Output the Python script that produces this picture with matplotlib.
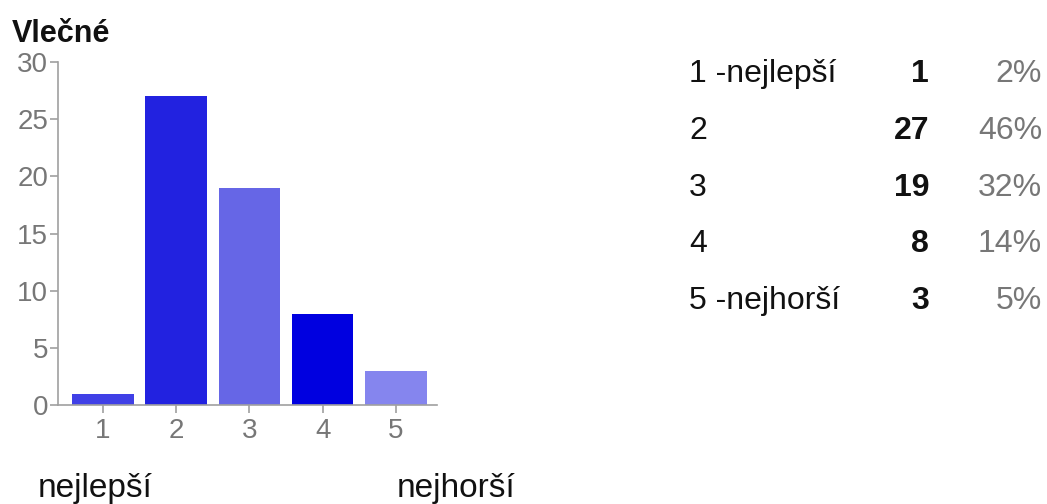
import matplotlib
matplotlib.use("Agg")
import matplotlib.pyplot as plt

categories = ["1", "2", "3", "4", "5"]
counts = [1, 27, 19, 8, 3]
row_labels = ["1 -nejlepší", "2", "3", "4", "5 -nejhorší"]
percents = ["2%", "46%", "32%", "14%", "5%"]
bar_colors = ["#4040e6", "#2222e0", "#6666e6", "#0000e0", "#8585ee"]
yticks = [0, 5, 10, 15, 20, 25, 30]
title = "Vlečné"
low_label = "nejlepší"
high_label = "nejhorší"

plt.rcParams['font.family'] = ['Liberation Sans', 'DejaVu Sans']

W, H = 1047, 504
fig = plt.figure(figsize=(W / 100, H / 100), dpi=100)

def fx(px):
    return px / W

def fy(py):
    return 1 - py / H

ax = fig.add_axes([fx(58), fy(405), fx(437) - fx(58), fy(62) - fy(405)])
xs = list(range(1, len(categories) + 1))
ax.bar(xs, counts, width=0.84, color=bar_colors, edgecolor='none')
ax.set_xlim(0.39, 5.56)
ax.set_ylim(0, 30)
ax.set_xticks(xs)
ax.set_xticklabels(categories)
ax.set_yticks(yticks)
ax.set_yticklabels([str(v) for v in yticks])
for s in ['top', 'right']:
    ax.spines[s].set_visible(False)
for s in ['left', 'bottom']:
    ax.spines[s].set_color('#a0a0a0')
    ax.spines[s].set_linewidth(1.2)
ax.tick_params(axis='both', colors='#a0a0a0', labelcolor='#777777',
               labelsize=20, length=6, width=1.2)
ax.tick_params(axis='y', pad=1)
ax.tick_params(axis='x', pad=3)

fig.text(fx(12), fy(42), title, fontsize=22, fontweight='bold',
         color='#111111', ha='left', va='baseline')
fig.text(fx(38), fy(497), low_label, fontsize=24, color='#111111',
         ha='left', va='baseline')
fig.text(fx(397), fy(497), high_label, fontsize=24, color='#111111',
         ha='left', va='baseline')

row_base = [82, 138.75, 195.5, 252.25, 309]
for lab, c, p, y in zip(row_labels, counts, percents, row_base):
    fig.text(fx(689), fy(y), lab, fontsize=23, color='#111111',
             ha='left', va='baseline')
    fig.text(fx(929), fy(y), str(c), fontsize=23, fontweight='bold',
             color='#111111', ha='right', va='baseline')
    fig.text(fx(1042), fy(y), p, fontsize=23, color='#777777',
             ha='right', va='baseline')

fig.savefig("out.png", dpi=100)
